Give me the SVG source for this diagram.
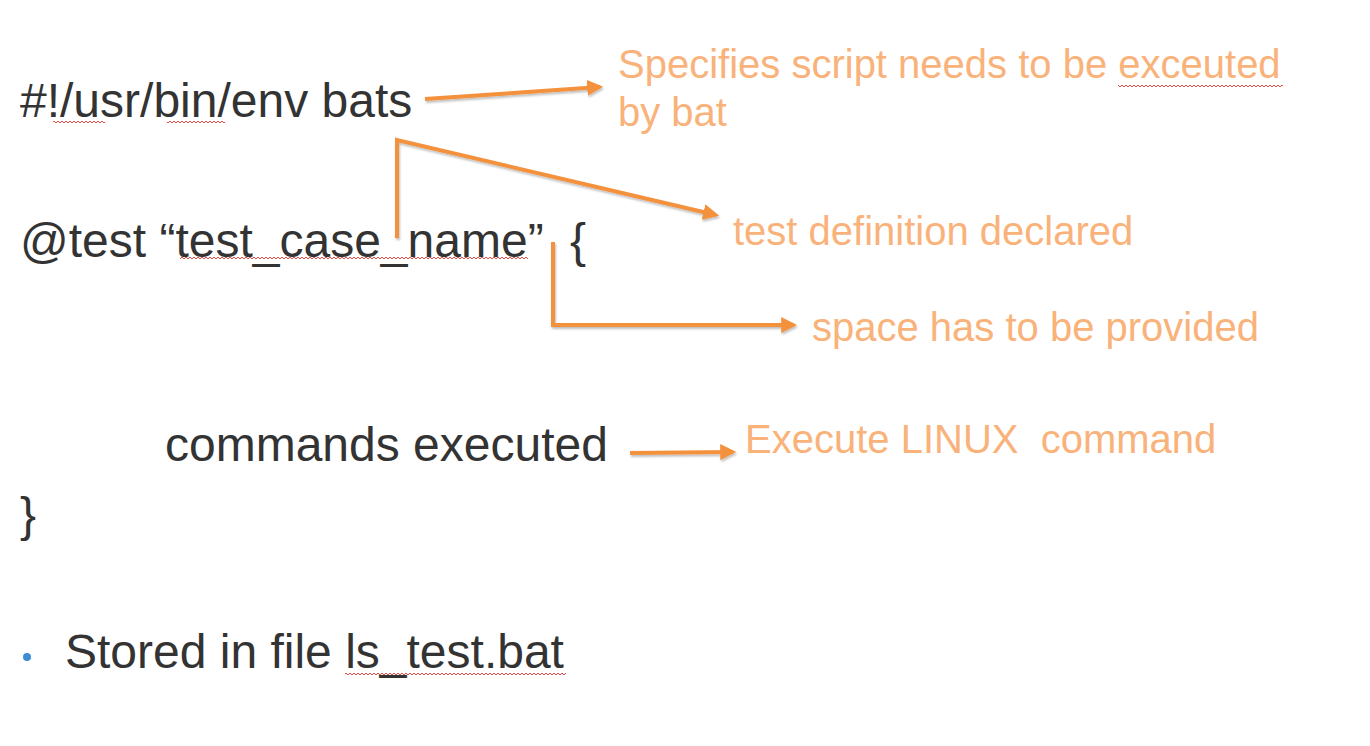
<svg xmlns="http://www.w3.org/2000/svg" width="1370" height="746" viewBox="0 0 1370 746">
<defs>
<marker id="ah" viewBox="0 0 10 10" refX="8" refY="5" markerWidth="4" markerHeight="4" orient="auto" markerUnits="strokeWidth">
<path d="M0,0 L10,5 L0,10 z" fill="#F4913E"/>
</marker>
<filter id="sh" filterUnits="userSpaceOnUse" x="0" y="0" width="1370" height="746">
<feDropShadow dx="1" dy="2" stdDeviation="1.2" flood-color="#000" flood-opacity="0.25"/>
</filter>
<pattern id="zz" patternUnits="userSpaceOnUse" width="4" height="4">
<path d="M0,3 L2,1 L4,3" fill="none" stroke="#E8392E" stroke-width="0.9"/>
</pattern>
</defs>
<style>
.code{font-family:"Liberation Sans",Arial,sans-serif;font-size:48px;fill:#333333;white-space:pre}
.note{font-family:"Liberation Sans",Arial,sans-serif;font-size:40px;fill:#F9B27A;white-space:pre}
.conn{fill:none;stroke:#F4913E;stroke-width:4;stroke-linejoin:miter;marker-end:url(#ah);filter:url(#sh)}
.sq{fill:url(#zz)}
</style>
<rect width="1370" height="746" fill="#ffffff"/>

<g id="code-shebang">
<text class="code" x="20" y="117">#!/usr/bin/env bats</text>
<rect class="sq" x="53" y="120" width="52" height="4"/>
<rect class="sq" x="167" y="120" width="58" height="4"/>
</g>

<g id="code-test">
<text class="code" x="20" y="257" xml:space="preserve">@test “test_case_name”</text>
<text class="code" x="570" y="257">{</text>
<rect class="sq" x="180" y="257" width="348" height="4"/>
</g>

<g id="code-commands">
<text class="code" x="165" y="461">commands executed</text>
</g>

<g id="code-close">
<text class="code" x="20" y="531">}</text>
</g>

<g id="bullet-stored">
<circle cx="27" cy="657" r="4" fill="#3C8DD6"/>
<text class="code" x="65" y="668">Stored in file ls_test.bat</text>
<rect class="sq" x="345" y="673" width="221" height="4"/>
</g>

<g id="note-specifies">
<text class="note" x="618" y="78">Specifies script needs to be exceuted</text>
<text class="note" x="618" y="126">by bat</text>
<rect class="sq" x="1118" y="85" width="165" height="4"/>
</g>

<g id="note-testdef">
<text class="note" x="733" y="245">test definition declared</text>
</g>

<g id="note-space">
<text class="note" x="812" y="341">space has to be provided</text>
</g>

<g id="note-linux">
<text class="note" x="745" y="453" xml:space="preserve">Execute LINUX  command</text>
</g>

<g id="connectors">
<path class="conn" d="M425,99 L600,87"/>
<path class="conn" d="M397,238 L397,140 L716,215"/>
<path class="conn" d="M553,242 L553,325 L794,325"/>
<path class="conn" d="M630,453 L733,452"/>
</g>
</svg>
